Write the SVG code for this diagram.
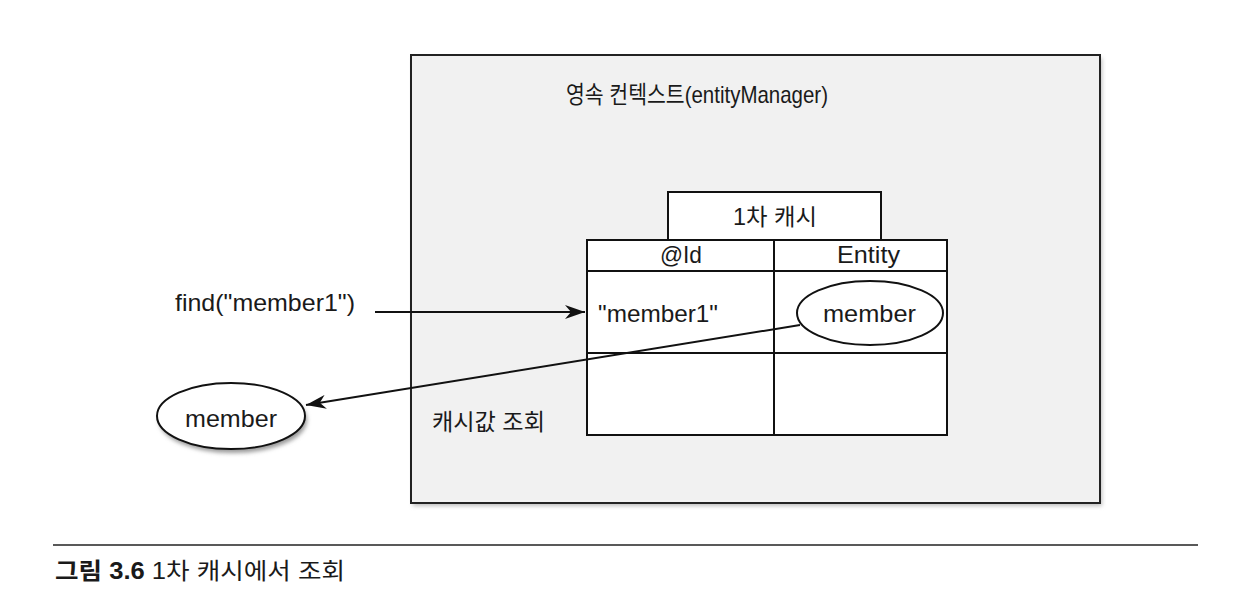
<svg xmlns="http://www.w3.org/2000/svg" width="1236" height="608" viewBox="0 0 1236 608">
<defs>
<style>
text{font-family:"Liberation Sans","Noto Sans CJK KR",sans-serif;fill:#1a1a1a;}
.t{font-size:24px;}
.k{font-size:23px;}
.ln{stroke:#111;stroke-width:2;fill:none;}
.cell{fill:#fff;stroke:#111;stroke-width:2;}
</style>
<marker id="ah" markerWidth="22" markerHeight="14" refX="20" refY="7" orient="auto" markerUnits="userSpaceOnUse">
<path d="M0,0 L20,7 L0,14 L6,7 Z" fill="#111"/>
</marker>
<filter id="sh" x="-10%" y="-10%" width="130%" height="130%">
<feGaussianBlur stdDeviation="2"/>
</filter>
</defs>
<rect width="1236" height="608" fill="#fff"/>
<g id="context">
<rect x="413" y="58" width="689" height="448" fill="#bdbdbd" filter="url(#sh)"/>
<rect x="411" y="55" width="689" height="448" fill="#f1f1f1" stroke="#222" stroke-width="2"/>
<text class="t" x="566" y="103" textLength="262" lengthAdjust="spacingAndGlyphs">영속 컨텍스트(entityManager)</text>
</g>
<g id="cache">
<rect class="cell" x="668" y="192" width="213" height="48"/>
<text class="k" x="733" y="225" textLength="84" lengthAdjust="spacingAndGlyphs">1차 캐시</text>
<rect class="cell" x="587" y="240" width="360" height="195"/>
<line class="ln" x1="587" y1="271" x2="947" y2="271"/>
<line class="ln" x1="587" y1="353" x2="947" y2="353"/>
<line class="ln" x1="774" y1="240" x2="774" y2="435"/>
<text class="t" x="660" y="263" textLength="42" lengthAdjust="spacingAndGlyphs">@Id</text>
<text class="t" x="837" y="263" textLength="63" lengthAdjust="spacingAndGlyphs">Entity</text>
<text class="t" x="598" y="322" textLength="120" lengthAdjust="spacingAndGlyphs">"member1"</text>
</g>
<g id="entity-member">
<ellipse cx="870" cy="313" rx="73" ry="32" fill="#fff" stroke="#111" stroke-width="2"/>
<text class="t" x="823" y="322" textLength="93" lengthAdjust="spacingAndGlyphs">member</text>
</g>
<g id="find-call">
<text class="t" x="175" y="311" textLength="180" lengthAdjust="spacingAndGlyphs">find("member1")</text>
</g>
<g id="result-member">
<ellipse cx="233" cy="420" rx="74" ry="33" fill="#999" filter="url(#sh)"/>
<ellipse cx="231" cy="416" rx="74" ry="33" fill="#fff" stroke="#111" stroke-width="2"/>
<text class="t" x="185" y="427" textLength="92" lengthAdjust="spacingAndGlyphs">member</text>
</g>
<g id="lookup-label">
<text class="k" x="432" y="430" textLength="113" lengthAdjust="spacingAndGlyphs">캐시값 조회</text>
</g>
<g id="connectors">
<line class="ln" x1="375" y1="312" x2="585" y2="312" marker-end="url(#ah)"/>
<line class="ln" x1="800" y1="325" x2="306" y2="405" marker-end="url(#ah)"/>
</g>
<g id="caption">
<line x1="53" y1="545" x2="1198" y2="545" stroke="#222" stroke-width="1.5"/>
<text x="55" y="579" style="font-size:23px" textLength="290" lengthAdjust="spacingAndGlyphs"><tspan font-weight="bold">그림 3.6</tspan> 1차 캐시에서 조회</text>
</g>
</svg>
